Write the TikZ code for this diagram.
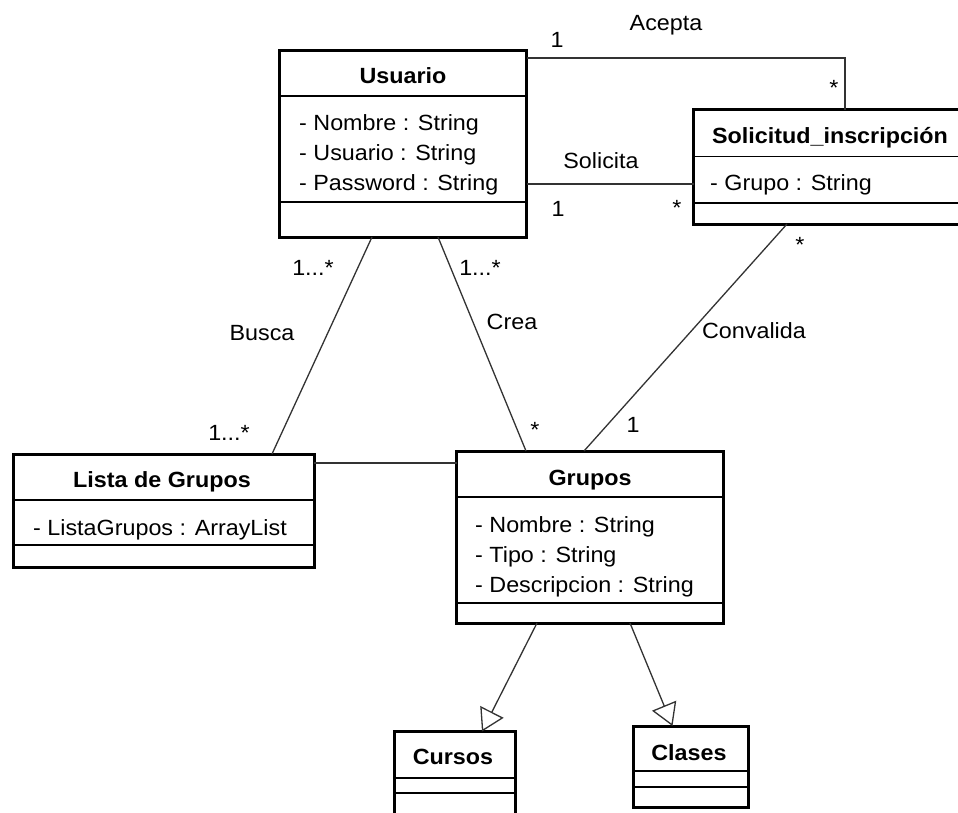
\documentclass[tikz,border=0pt]{standalone}
\usepackage{fontspec}
\setmainfont{Liberation Sans}[FakeStretch=1.06]
\usetikzlibrary{arrows.meta}

\begin{document}
\begin{tikzpicture}[x=1pt,y=-1pt,
  classbox/.style={draw, line width=3pt, outer sep=0pt, inner sep=0pt, anchor=north west, fill=white},
  sepline/.style={line width=1.3pt},
  assoc/.style={line width=1.3pt, draw=black!80},
  gen/.style={line width=1.3pt, draw=black!80, -{Triangle[open, length=22pt, width=26pt, fill=white]}},
  ctitle/.style={font=\fontsize{22}{26}\selectfont\bfseries, anchor=base, inner sep=0pt},
  attr/.style={font=\fontsize{22}{26}\selectfont, anchor=base west, inner sep=0pt},
  lbl/.style={font=\fontsize{22}{26}\selectfont, anchor=base, inner sep=0pt},
]
\useasboundingbox (0,0) rectangle (958,812);
\fill[white] (0,0) rectangle (958,812);
\clip (0,0) rectangle (958,812);

% class boxes
\node[classbox, minimum width=247pt, minimum height=186.5pt] (usu) at (279.5,50.5) {};
\node[classbox, minimum width=280pt, minimum height=114.5pt] (sol) at (693.5,109.5) {};
\node[classbox, minimum width=300.5pt, minimum height=113pt] (lista) at (13.5,454) {};
\node[classbox, minimum width=267pt, minimum height=172pt] (grp) at (456.5,451) {};
\node[classbox, minimum width=121pt, minimum height=100pt] (cur) at (394,731.5) {};
\node[classbox, minimum width=115pt, minimum height=81pt] (cla) at (633,726) {};

% compartment separators
\foreach \b/\a/\c in {usu/45.5/151.5, sol/47/93.5, lista/46/91, grp/46/152, cur/46.5/61.5, cla/45/61} {
  \draw[sepline] ([yshift=-\a pt]\b.north west) -- ([yshift=-\a pt]\b.north east);
  \draw[sepline] ([yshift=-\c pt]\b.north west) -- ([yshift=-\c pt]\b.north east);
}

% class names
\node[ctitle] (tusu) at (403,83) {Usuario};
\node[ctitle] (tsol) at (830,143) {Solicitud\_inscripción};
\node[ctitle] (tlista) at (162,487) {Lista de Grupos};
\node[ctitle] (tgrp) at (590,485) {Grupos};
\node[ctitle] (tcur) at (453,764) {Cursos};
\node[ctitle] (tcla) at (689,760) {Clases};

% attributes
\node[attr] (u1) at (299,130) {- Nombre : String};
\node[attr] (u2) at (299,160) {- Usuario : String};
\node[attr] (u3) at (299,190) {- Password : String};
\node[attr] (s1) at (710,190) {- Grupo : String};
\node[attr] (l1) at (33,535) {- ListaGrupos : ArrayList};
\node[attr] (g1) at (475,532) {- Nombre : String};
\node[attr] (g2) at (475,562) {- Tipo : String};
\node[attr] (g3) at (475,592) {- Descripcion : String};

% associations
\draw[assoc] ([yshift=-7.5pt]usu.north east) -| ([xshift=151.5pt]sol.north west);
\draw[assoc] ([yshift=-133.5pt]usu.north east) -- ([yshift=-74.5pt]sol.north west);
\draw[assoc] ([xshift=92.5pt]usu.south west) -- ([xshift=258.5pt]lista.north west);
\draw[assoc] ([xshift=158.5pt]usu.south west) -- ([xshift=69.5pt]grp.north west);
\draw[assoc] ([xshift=93.5pt]sol.south west) -- ([xshift=127.5pt]grp.north west);
\draw[assoc] ([yshift=-9pt]lista.north east) -- ([yshift=-12pt]grp.north west);

% generalizations
\draw[gen] ([xshift=80.5pt]grp.south west) -- ([xshift=88pt]cur.north west);
\draw[gen] ([xshift=173.5pt]grp.south west) -- ([xshift=39.5pt]cla.north west);

% association names and multiplicities
\node[lbl] (acepta) at (666,30) {Acepta};
\node[lbl] (m1) at (557,47) {1};
\node[lbl] (m2) at (834,95) {*};
\node[lbl] (solicita) at (601,168) {Solicita};
\node[lbl] (m3) at (558,216) {1};
\node[lbl] (m4) at (677,215) {*};
\node[lbl] (m5) at (800,252) {*};
\node[lbl] (convalida) at (754,338) {Convalida};
\node[lbl] (m6) at (633,432) {1};
\node[lbl] (m7) at (313,275) {1...*};
\node[lbl] (m8) at (480,275) {1...*};
\node[lbl] (busca) at (262,340) {Busca};
\node[lbl] (crea) at (512,329) {Crea};
\node[lbl] (m9) at (229,440) {1...*};
\node[lbl] (m10) at (535,437) {*};
\end{tikzpicture}
\end{document}
